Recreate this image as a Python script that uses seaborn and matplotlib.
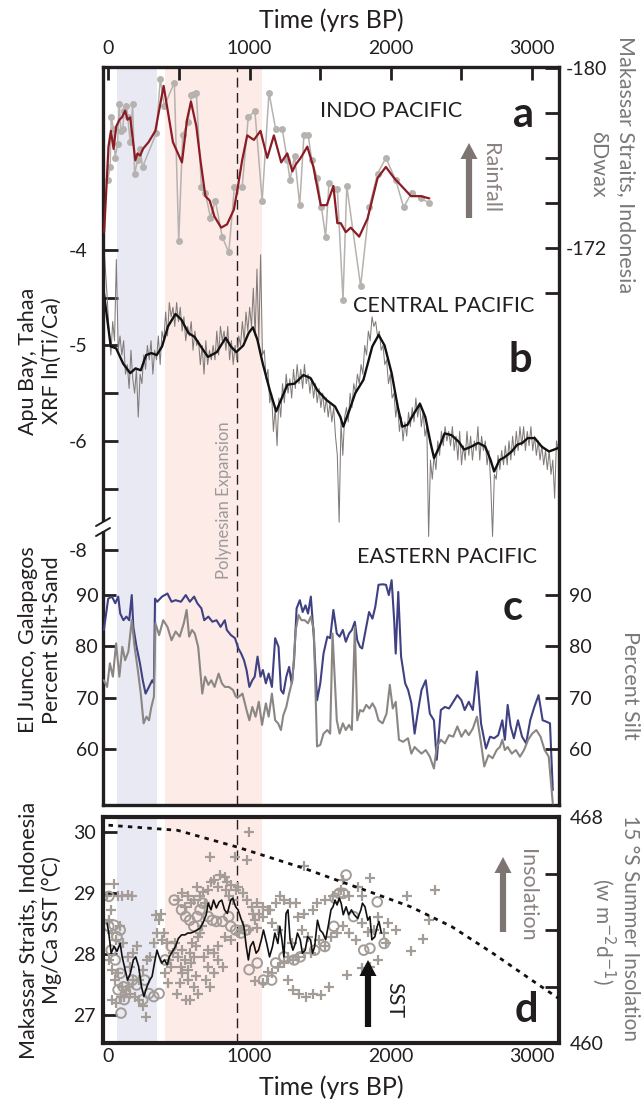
import numpy as np
import pandas as pd
import matplotlib
matplotlib.use("Agg")
import matplotlib.pyplot as plt
from matplotlib.patches import FancyArrow, Rectangle
from matplotlib.lines import Line2D
import seaborn as sns

# ---------------------------------------------------------------- data
# (a) Makassar Straits leaf-wax dD (permil): raw samples and smoothed record
dwax_raw = [(-7, -175.0), (12, -175.6), (19, -177.8), (36, -177.3), (47, -176.0), (64, -176.6),
            (76, -178.4), (88, -177.2), (102, -177.3), (111, -178.1), (126, -178.3), (137, -177.8),
            (154, -176.7), (171, -178.4), (185, -175.3), (206, -175.9), (225, -176.4), (242, -175.6),
            (339, -177.1), (367, -179.5), (396, -178.3), (467, -179.35), (498, -172.3), (526, -177.0),
            (564, -177.6), (588, -178.8), (604, -178.85), (623, -178.9), (659, -174.7), (687, -174.45),
            (723, -173.35), (758, -174.1), (806, -172.5), (853, -171.8), (893, -174.7), (948, -174.7),
            (991, -177.8), (1038, -178.1), (1090, -174.1), (1138, -178.9), (1185, -177.3), (1232, -177.3),
            (1268, -175.9), (1287, -175.0), (1320, -176.1), (1356, -173.9), (1386, -177.0), (1417, -177.0),
            (1441, -175.9), (1481, -175.1), (1510, -173.8), (1540, -172.5), (1564, -174.9), (1623, -174.6),
            (1663, -169.7), (1690, -174.75), (1788, -170.3), (1849, -173.8), (1908, -175.3), (1967, -176.0),
            (2038, -175.0), (2093, -173.8), (2150, -174.45), (2216, -174.2), (2275, -174.0)]
dwax_smooth = [(-31, -172.7), (0, -176.5), (17, -177.2), (36, -176.4), (55, -177.4), (78, -177.7),
               (95, -177.8), (118, -178.1), (135, -177.7), (154, -177.8), (173, -176.8), (190, -175.9),
               (206, -176.2), (225, -176.1), (244, -176.4), (284, -176.7), (332, -177.2), (391, -179.2),
               (457, -176.7), (521, -175.8), (557, -177.7), (585, -178.5), (623, -177.4), (652, -175.9),
               (687, -174.3), (718, -174.1), (751, -173.4), (799, -172.9), (841, -173.05), (889, -173.7),
               (912, -174.5), (948, -175.9), (984, -177.0), (1031, -176.8), (1078, -177.2), (1126, -176.0),
               (1173, -177.0), (1225, -175.8), (1268, -176.2), (1304, -175.4), (1327, -175.7), (1363, -176.0),
               (1410, -176.5), (1453, -175.6), (1505, -173.9), (1548, -173.9), (1595, -174.75), (1623, -173.1),
               (1647, -173.1), (1683, -172.7), (1718, -172.9), (1778, -172.5), (1837, -173.3), (1908, -175.1),
               (1967, -175.6), (2026, -175.1), (2086, -174.7), (2145, -174.3), (2216, -174.3), (2275, -174.2)]

# (b) Apu Bay XRF ln(Ti/Ca): evenly spaced scan between these ages, and smoothed curve
xrf_age_span = (-35, 3190)
xrf_raw = [
    -3.9, -4.2, -4.5, -4.85, -5.1, -4.75, -4.95, -4.1, -5.05, -4.9,
    -5.1, -4.95, -5.3, -5.2, -5.45, -5.05, -5.35, -5.5, -5.25, -5.75,
    -5.3, -5.4, -5.1, -5.25, -5.0, -5.15, -4.95, -5.3, -5.05, -5.15,
    -4.9, -5.2, -4.85, -4.95, -4.65, -4.9, -4.55, -4.7, -4.6, -4.8,
    -4.55, -4.75, -4.6, -4.85, -4.7, -4.95, -4.8, -4.9, -4.75, -5.05,
    -4.85, -5.0, -4.95, -5.2, -5.0, -5.3, -4.95, -5.2, -5.05, -5.15,
    -5.0, -5.15, -4.85, -5.1, -4.8, -4.95, -4.85, -5.05, -4.8, -5.15,
    -4.95, -5.2, -5.0, -5.15, -4.9, -5.0, -4.75, -4.95, -4.65, -4.85,
    -4.6, -4.8, -4.4, -4.9, -4.2, -4.95, -4.05, -5.1, -5.05, -5.35,
    -5.25, -5.6, -5.5, -5.9, -5.65, -6.05, -5.55, -5.75, -5.4, -5.6,
    -5.3, -5.5, -5.35, -5.55, -5.25, -5.45, -5.2, -5.4, -5.25, -5.45,
    -5.2, -5.4, -5.3, -5.5, -5.35, -5.55, -5.4, -5.6, -5.45, -5.65,
    -5.5, -5.7, -5.55, -5.75, -5.6, -5.8, -5.65, -5.95, -6.15, -6.85,
    -5.8, -6.15, -5.75, -5.65, -5.8, -5.5, -5.65, -5.4, -5.5, -5.3,
    -5.4, -5.2, -5.3, -5.0, -5.1, -4.85, -4.95, -4.7, -4.8, -4.75,
    -4.9, -4.85, -5.05, -5.0, -5.2, -5.15, -5.4, -5.3, -5.55, -5.5,
    -5.75, -5.6, -5.9, -5.75, -6.0, -5.8, -5.95, -5.7, -5.85, -5.65,
    -5.8, -5.55, -5.75, -5.6, -5.85, -5.7, -5.95, -5.85, -7.0, -6.2,
    -6.4, -6.15, -6.3, -6.0, -6.15, -5.9, -6.05, -5.85, -6.0, -5.9,
    -6.05, -5.85, -6.1, -5.95, -6.2, -5.9, -6.25, -6.05, -6.2, -5.9,
    -6.15, -5.95, -6.2, -6.0, -6.1, -5.85, -6.2, -5.95, -6.1, -6.0,
    -6.25, -6.1, -6.45, -7.0, -6.35, -6.4, -6.15, -6.3, -6.1, -6.25,
    -6.05, -6.25, -6.0, -6.2, -5.95, -6.15, -5.9, -6.1, -5.85, -6.05,
    -5.85, -6.1, -5.9, -6.05, -5.85, -6.1, -5.95, -6.15, -6.0, -6.2,
    -6.05, -6.25, -6.1, -6.3, -6.1, -6.35, -6.2, -6.6, -6.0, -6.1]
xrf_smooth = [(-39, -4.38), (16, -5.01), (54, -5.03), (104, -5.19), (154, -5.29), (192, -5.24),
              (229, -5.26), (267, -5.10), (304, -5.08), (342, -5.10), (380, -5.01), (422, -4.80),
              (475, -4.67), (517, -4.73), (567, -4.87), (610, -4.91), (655, -5.01), (705, -5.12),
              (768, -5.07), (831, -4.92), (868, -5.01), (906, -5.07), (956, -5.0), (994, -4.87),
              (1024, -4.81), (1056, -4.94), (1094, -5.19), (1144, -5.47), (1189, -5.69), (1232, -5.54),
              (1269, -5.41), (1319, -5.40), (1382, -5.31), (1432, -5.34), (1482, -5.47), (1545, -5.57),
              (1607, -5.64), (1645, -5.75), (1665, -5.85), (1708, -5.68), (1750, -5.50), (1808, -5.36),
              (1871, -5.01), (1916, -4.89), (1958, -5.0), (2008, -5.29), (2051, -5.64), (2084, -5.85),
              (2121, -5.83), (2159, -5.73), (2209, -5.61), (2247, -5.75), (2284, -6.02), (2309, -6.18),
              (2347, -6.06), (2384, -5.92), (2434, -5.94), (2485, -6.01), (2522, -6.09), (2572, -6.06),
              (2622, -6.02), (2672, -6.06), (2710, -6.2), (2735, -6.32), (2773, -6.2), (2810, -6.17),
              (2860, -6.11), (2898, -6.04), (2936, -6.02), (2973, -5.97), (3023, -5.97), (3073, -6.06),
              (3124, -6.11), (3161, -6.09), (3194, -6.07)]

# (c) El Junco lake sediment: percent silt+sand and percent silt
siltsand = [(-33, 83.2), (-2, 89.3), (25, 89.7), (48, 88.4), (69, 89.7), (83, 86.4), (106, 85.1),
            (127, 85.8), (147, 85.1), (165, 90.0), (176, 83.8), (199, 79.9), (223, 76.7), (243, 73.4),
            (263, 70.8), (287, 72.1), (310, 73.4), (322, 72.8), (330, 89.3), (345, 88.7), (380, 89.7),
            (418, 90.3), (447, 88.7), (476, 89.0), (514, 88.7), (548, 90.0), (577, 88.7), (607, 89.7),
            (630, 88.4), (659, 87.4), (679, 85.1), (708, 85.8), (737, 84.8), (766, 85.1), (795, 83.8),
            (825, 85.1), (839, 83.2), (868, 82.2), (897, 81.6), (921, 79.6), (941, 78.6), (961, 77.3),
            (979, 75.4), (999, 72.1), (1020, 73.4), (1037, 74.1), (1057, 78.0), (1078, 74.1), (1095, 75.4),
            (1116, 72.8), (1136, 74.7), (1159, 72.1), (1182, 81.6), (1206, 79.9), (1223, 71.5), (1240, 70.8),
            (1261, 74.1), (1281, 76.0), (1299, 72.8), (1316, 77.3), (1334, 87.4), (1357, 89.0), (1377, 86.7),
            (1397, 88.0), (1415, 86.4), (1435, 89.7), (1456, 81.9), (1479, 69.5), (1502, 72.8), (1525, 78.6),
            (1552, 81.9), (1572, 81.6), (1595, 87.1), (1619, 82.5), (1639, 81.9), (1662, 83.2), (1683, 80.9),
            (1706, 82.5), (1726, 83.2), (1747, 84.8), (1764, 81.2), (1784, 79.9), (1799, 79.6), (1828, 83.8),
            (1848, 86.7), (1872, 85.4), (1892, 87.7), (1915, 92.0), (1944, 92.1), (1968, 92.0), (1988, 90.0),
            (2008, 92.9), (2026, 85.1), (2037, 78.6), (2055, 90.6), (2075, 78.0), (2104, 72.8), (2125, 71.5),
            (2148, 68.9), (2171, 63.0), (2192, 66.9), (2220, 71.5), (2250, 73.4), (2279, 66.9), (2308, 65.6),
            (2328, 57.9), (2357, 67.6), (2386, 68.2), (2415, 67.9), (2445, 69.2), (2474, 70.5), (2503, 69.5),
            (2526, 67.6), (2555, 69.2), (2584, 67.6), (2613, 75.1), (2642, 65.0), (2677, 60.1), (2706, 62.4),
            (2735, 62.1), (2764, 62.7), (2793, 65.6), (2811, 61.8), (2831, 68.6), (2852, 64.4), (2875, 62.1),
            (2904, 65.6), (2933, 62.4), (2962, 61.1), (2991, 65.6), (3020, 68.2), (3050, 70.5), (3079, 65.6),
            (3108, 65.3), (3131, 65.0), (3151, 52.0)]
silt = [(-33, 73.4), (-10, 72.1), (10, 76.7), (31, 74.1), (54, 80.6), (77, 74.1), (98, 79.9), (118, 77.3),
        (141, 79.0), (165, 85.1), (185, 79.9), (208, 75.4), (229, 70.8), (249, 65.0), (269, 66.3),
        (287, 65.6), (304, 68.2), (322, 70.2), (333, 84.5), (359, 82.2), (388, 85.1), (418, 83.8),
        (447, 81.2), (476, 82.9), (505, 81.9), (534, 84.5), (554, 87.1), (572, 81.9), (592, 83.2),
        (612, 82.5), (636, 79.9), (665, 70.8), (685, 74.1), (708, 72.5), (729, 73.4), (752, 72.1),
        (781, 74.7), (804, 72.8), (825, 72.1), (854, 72.1), (883, 71.5), (903, 70.2), (926, 70.2),
        (950, 70.8), (979, 67.6), (999, 65.6), (1020, 68.2), (1043, 66.3), (1066, 69.2), (1089, 64.7),
        (1116, 68.9), (1136, 66.3), (1159, 70.8), (1182, 65.6), (1203, 65.0), (1223, 63.7), (1240, 66.6),
        (1261, 68.2), (1281, 70.8), (1305, 73.4), (1328, 83.2), (1348, 86.1), (1368, 85.1), (1392, 85.1),
        (1415, 84.5), (1435, 85.8), (1456, 83.2), (1479, 60.5), (1502, 60.8), (1525, 63.0), (1552, 63.7),
        (1572, 63.0), (1589, 82.5), (1619, 65.6), (1639, 63.0), (1662, 65.0), (1683, 63.7), (1706, 64.7),
        (1726, 63.7), (1747, 83.8), (1764, 65.6), (1784, 67.6), (1805, 67.3), (1828, 68.6), (1851, 67.9),
        (1872, 68.9), (1892, 67.9), (1915, 65.6), (1944, 65.0), (1972, 66.9), (1995, 72.5), (2016, 67.9),
        (2037, 69.2), (2060, 61.8), (2089, 61.4), (2124, 62.1), (2148, 59.1), (2171, 60.4), (2192, 59.8),
        (2220, 59.1), (2250, 59.8), (2279, 58.5), (2308, 56.2), (2328, 60.4), (2357, 61.8), (2386, 61.1),
        (2415, 62.7), (2445, 62.4), (2474, 64.4), (2503, 62.4), (2532, 63.7), (2555, 62.7), (2584, 64.0),
        (2613, 66.3), (2642, 61.1), (2665, 56.6), (2695, 58.8), (2724, 58.2), (2753, 59.8), (2776, 60.4),
        (2793, 61.8), (2811, 59.8), (2831, 60.4), (2860, 59.1), (2889, 59.8), (2918, 58.5), (2947, 59.8),
        (2976, 61.8), (3005, 63.0), (3034, 63.7), (3064, 62.4), (3093, 59.8), (3122, 58.5), (3151, 49.4)]

# (d) Makassar Straits Mg/Ca SST (deg C): smoothed stack and individual measurements
sst_age = [-10, 2, 19, 39, 60, 83, 97, 118, 135, 155, 176, 193, 214, 234, 251, 272, 292, 309, 330, 344,
           359, 379, 396, 417, 431, 454, 475, 495, 518, 542, 562, 582, 605, 629, 649, 669, 693, 707, 727,
           745, 765, 785, 803, 823, 843, 867, 881, 902, 919, 939, 960, 977, 992, 1006, 1026, 1047, 1064,
           1084, 1099, 1122, 1142, 1163, 1180, 1201, 1215, 1230, 1244, 1259, 1273, 1288, 1308, 1325, 1340,
           1360, 1375, 1395, 1412, 1433, 1447, 1462, 1482, 1500, 1520, 1540, 1558, 1578, 1592, 1607, 1621,
           1636, 1650, 1665, 1685, 1703, 1723, 1743, 1767, 1790, 1801, 1819, 1839, 1854, 1868, 1889, 1906,
           1918, 1935]
sst_smooth = [28.50, 28.34, 28.01, 28.12, 28.04, 28.17, 27.95, 27.74, 27.57, 27.68,
              27.90, 27.95, 27.79, 27.46, 27.30, 27.46, 27.57, 27.63, 27.90, 28.06,
              27.95, 27.85, 27.90, 27.82, 27.95, 28.04, 28.12, 28.25, 28.31, 28.31,
              28.34, 28.34, 28.36, 28.39, 28.42, 28.50, 28.64, 28.83, 28.72, 28.88,
              28.75, 28.85, 28.88, 28.72, 28.66, 28.88, 28.91, 28.77, 28.72, 28.58,
              28.45, 28.12, 27.90, 28.12, 28.20, 28.01, 28.06, 28.23, 28.39, 28.17,
              27.95, 28.12, 28.34, 28.17, 28.45, 28.23, 27.95, 28.66, 28.72, 28.23,
              28.06, 28.17, 28.34, 28.23, 28.01, 28.06, 28.28, 28.23, 28.01, 28.12,
              28.55, 28.39, 28.34, 28.23, 28.45, 28.72, 28.77, 28.88, 28.80, 28.91,
              28.83, 28.64, 28.77, 28.64, 28.72, 28.64, 28.58, 28.72, 28.83, 28.77,
              28.55, 28.61, 28.23, 28.28, 28.45, 28.53, 28.34]
sst_cross = [(-33, 29.15), (-10, 28.94), (19, 28.72), (39, 29.15), (68, 28.94), (97, 28.94), (141, 28.96),
             (165, 28.94), (2, 28.55), (25, 28.34), (54, 28.23), (83, 28.45), (106, 28.17), (135, 27.95),
             (155, 27.79), (176, 28.01), (199, 28.12), (2, 27.90), (25, 27.74), (48, 27.57), (68, 27.68),
             (97, 27.46), (126, 27.41), (155, 27.35), (185, 27.30), (214, 27.25), (243, 27.14), (263, 26.97),
             (25, 27.25), (54, 27.19), (89, 27.30), (112, 27.30), (147, 27.46), (176, 27.57), (214, 27.57),
             (243, 27.74), (272, 27.90), (292, 27.95), (321, 28.17), (344, 28.34), (359, 28.55), (373, 28.66),
             (338, 28.64), (379, 28.23), (396, 28.34), (417, 28.17), (431, 27.90), (402, 27.68), (425, 27.52),
             (446, 27.79), (460, 28.01), (475, 28.17), (495, 27.95), (512, 27.79), (524, 28.06), (504, 27.52),
             (489, 27.35), (518, 27.68), (542, 27.90), (562, 27.74), (576, 28.01), (591, 28.17), (562, 27.57),
             (582, 27.85), (605, 27.95), (620, 28.12), (634, 28.28), (649, 28.34), (663, 28.45), (495, 28.88),
             (518, 28.99), (542, 28.77), (562, 28.94), (582, 28.83), (605, 28.88), (629, 29.10), (649, 28.94),
             (669, 29.02), (687, 28.83), (707, 29.05), (727, 29.18), (751, 29.21), (774, 29.10), (794, 29.29),
             (823, 29.25), (843, 29.18), (867, 29.13), (832, 29.05), (852, 28.94), (881, 28.88), (902, 29.05),
             (919, 29.10), (954, 28.99), (983, 28.88), (1018, 28.77), (1055, 28.83), (1099, 28.77), (1128, 28.72),
             (1041, 27.55), (1099, 27.52), (1157, 27.68), (1201, 27.79), (1244, 27.85), (1273, 27.95),
             (1308, 27.90), (1346, 27.95), (1389, 28.01), (1433, 28.01), (1128, 27.71), (1273, 27.57),
             (1311, 27.41), (1354, 27.35), (1404, 27.30), (1447, 27.35), (1505, 27.33), (1563, 27.46),
             (1694, 27.65), (1796, 27.76), (1854, 27.79), (1912, 27.90), (1970, 28.17), (2042, 28.39),
             (2144, 28.04), (2231, 28.25), (2275, 28.55), (2115, 28.94), (2318, 29.05), (1854, 29.24),
             (1767, 29.10), (1709, 28.94), (1796, 28.94), (1650, 29.05), (1592, 28.94), (1534, 28.88),
             (1476, 28.83), (1447, 28.72), (1389, 28.66), (1331, 28.83), (1288, 28.83), (1244, 28.88),
             (1215, 28.94), (1186, 28.83), (1142, 28.72), (1099, 28.61), (1070, 28.66), (1041, 28.55),
             (997, 28.39), (954, 28.45), (925, 28.34), (867, 28.23), (823, 28.28), (780, 28.12), (751, 28.01),
             (707, 28.06), (678, 27.95), (707, 27.79), (751, 27.68), (780, 27.90), (809, 27.79), (693, 27.57),
             (722, 27.46), (620, 27.63), (634, 27.35), (605, 27.46), (576, 27.25), (547, 27.25), (983, 29.54),
             (997, 30.0), (722, 29.59), (896, 29.59), (1026, 28.66), (1055, 28.42), (1157, 28.50), (1201, 28.39),
             (1302, 28.17), (1346, 28.61), (1375, 28.39), (1418, 28.28), (1491, 28.23), (1534, 28.12),
             (1578, 28.28), (1621, 28.34), (1665, 28.45), (1709, 28.34), (1752, 28.23), (1796, 28.50),
             (1839, 28.36), (1883, 28.39), (1912, 28.61), (1955, 28.34), (1984, 28.50), (1389, 29.43),
             (1665, 29.21)]
sst_circle = [(2, 28.94), (39, 28.47), (2, 28.45), (83, 28.39), (60, 28.28), (19, 28.06), (48, 27.90),
              (83, 27.68), (106, 27.46), (68, 27.41), (112, 27.25), (89, 27.03), (170, 27.57), (199, 27.49),
              (243, 27.25), (286, 27.35), (321, 27.30), (359, 27.35), (257, 27.57), (402, 27.90), (446, 28.12),
              (466, 28.88), (518, 28.72), (547, 28.61), (576, 28.55), (605, 28.45), (629, 28.61), (649, 28.72),
              (669, 28.83), (707, 28.61), (736, 28.55), (765, 28.53), (809, 28.53), (852, 28.61), (867, 28.45),
              (902, 28.39), (939, 28.34), (977, 28.39), (997, 27.74), (1055, 27.85), (1099, 27.57),
              (1157, 27.57), (1186, 27.85), (1244, 27.95), (1317, 27.90), (1360, 27.95), (1462, 28.06),
              (1534, 28.12), (1607, 28.91), (1636, 28.99), (1665, 28.99), (1685, 29.29), (1598, 28.45),
              (1738, 28.61), (1810, 28.06), (1854, 28.09), (1906, 28.85), (1955, 28.17)]

# 15 S summer insolation (W m-2 d-1)
insolation = [(0, 467.71), (489, 467.53), (910, 466.94), (1389, 466.18), (1650, 465.71), (1854, 465.35),
              (2144, 464.82), (2434, 464.12), (2725, 463.18), (3015, 462.18), (3189, 461.59)]

# highlighted intervals and the Polynesian expansion date (yrs BP)
cool_band = (58, 345)
warm_band = (402, 1090)
expansion_age = 910

year_ticks = [0, 500, 1000, 1500, 2000, 2500, 3000]
year_labels = ["0", "", "1000", "", "2000", "", "3000"]

# ---------------------------------------------------------------- style
sns.set_theme(style="white")
plt.rcParams["font.family"] = ["Lato", "DejaVu Sans"]
plt.rcParams["axes.unicode_minus"] = False

INK = "#231f20"
LABEL_GREY = "#7b7878"
ARROW_GREY = "#7e7573"

W, H = 641, 1101
fig = plt.figure(figsize=(W / 100, H / 100), dpi=100)
fig.patch.set_facecolor("white")


def rect(left, top, right, bottom):
    return [left / W, 1 - bottom / H, (right - left) / W, (bottom - top) / H]


def frame(pairs):
    return pd.DataFrame(pairs, columns=["age", "value"])


def draw_line(ax, df, **kw):
    sns.lineplot(data=df, x="age", y="value", ax=ax, estimator=None, sort=False,
                 legend=False, **kw)


def ftext(x, y, s, **kw):
    fig.text(x / W, 1 - y / H, s, **kw)


ax_b = fig.add_axes(rect(103, 67, 559, 805))
ax_a = ax_b.twinx()
ax_c = fig.add_axes(rect(103, 67, 559, 805), frameon=False)
ax_c2 = ax_c.twinx()
ax_d = fig.add_axes(rect(103, 817, 559, 1043))
ax_d2 = ax_d.twinx()

XLIM = (-39, 3195)
for ax in (ax_b, ax_a, ax_c, ax_c2, ax_d, ax_d2):
    ax.set_xlim(*XLIM)

# shaded intervals and expansion line
for ax in (ax_b, ax_d):
    ax.axvspan(*cool_band, color="#e9e9f4", lw=0, zorder=0)
    ax.axvspan(*warm_band, color="#fdebe7", lw=0, zorder=0)
    ax.axvline(expansion_age, color=INK, lw=1.0, ls=(0, (7, 4)), zorder=1)

# (b) XRF
xrf_df = pd.DataFrame({"age": np.linspace(*xrf_age_span, len(xrf_raw)), "value": xrf_raw})
draw_line(ax_b, xrf_df, color="#817b79", linewidth=0.75)
draw_line(ax_b, frame(xrf_smooth), color="#111111", linewidth=1.7)

# (a) dD wax
draw_line(ax_a, frame(dwax_raw), color="#b6b2af", linewidth=1.1, marker="o",
          markersize=5, markeredgewidth=0)
draw_line(ax_a, frame(dwax_smooth), color="#8c1c24", linewidth=1.6)

# (c) El Junco grain size
draw_line(ax_c, frame(siltsand), color="#3f4182", linewidth=1.5)
draw_line(ax_c2, frame(silt), color="#8a8684", linewidth=1.5)

# (d) SST and insolation
SCATTER_GREY = "#a39c97"
sns.scatterplot(data=frame(sst_cross), x="age", y="value", ax=ax_d, marker="+", s=60,
                color=SCATTER_GREY, linewidth=1.6, legend=False, zorder=2)
sns.scatterplot(data=frame(sst_circle), x="age", y="value", ax=ax_d, marker="o", s=48,
                facecolor="none", edgecolor=SCATTER_GREY, linewidth=1.4, legend=False, zorder=2)
draw_line(ax_d, pd.DataFrame({"age": sst_age, "value": sst_smooth}), color="#111111",
          linewidth=1.2, zorder=3)
draw_line(ax_d2, frame(insolation), color="#111111", linewidth=2.0, linestyle=(0, (1.6, 1.9)))

# ---------------------------------------------------------------- axes
TICK = dict(direction="in", width=2, colors=INK, labelsize=14)

ax_b.set_xticks(year_ticks)
ax_b.set_xticklabels(year_labels)
ax_b.xaxis.tick_top()
ax_b.tick_params(axis="x", length=9, pad=7, **TICK)
ax_b.set_xlabel("Time (yrs BP)", fontsize=18, color=INK)
ax_b.xaxis.set_label_position("top")
ax_b.xaxis.set_label_coords(0.5, (805 - 28) / 738)
ax_b.xaxis.label.set_va("baseline")

xrf_break_tick = -4 - (550 - 250) / 95.5
ax_b.set_ylim(-9.812, -2.084)
ax_b.set_yticks([-4, -4.5, -5, -5.5, -6, -6.5, xrf_break_tick])
ax_b.set_yticklabels(["-4", "", "-5", "", "-6", "", "-8"])
ax_b.tick_params(axis="y", length=11, pad=11.5, **TICK)
ax_b.set_ylabel("Apu Bay, Tahaa\nXRF ln(Ti/Ca)", fontsize=15.5, color=INK, linespacing=1.2)
ax_b.yaxis.set_label_coords((40 - 103) / 456, (805 - 361) / 738)
ax_b.yaxis.label.set(ha="center", va="center")
for s in ax_b.spines.values():
    s.set_linewidth(2.4)
    s.set_color(INK)

ax_a.set_ylim(-147.24, -180.04)
ax_a.set_yticks([-180, -178, -176, -174, -172, -170])
ax_a.set_yticklabels(["-180", "", "", "", "-172", ""])
ax_a.tick_params(axis="y", length=10, pad=5, **TICK)
ax_a.set_ylabel("Makassar Straits, Indonesia", rotation=270, fontsize=15.5, color=LABEL_GREY)
ax_a.yaxis.set_label_coords((626 - 103) / 456, (805 - 165) / 738)
ax_a.yaxis.label.set(ha="center", va="center")
ftext(598, 164, "δDwax", rotation=270, ha="center", va="center", fontsize=15.5, color=LABEL_GREY)
for s in ax_a.spines.values():
    s.set_visible(False)

ax_c.xaxis.set_visible(False)
ax_c.set_ylim(49.09, 192.9)
ax_c.set_yticks([60, 70, 80, 90])
ax_c.tick_params(axis="y", length=9, pad=3.5, **TICK)
ax_c.set_ylabel("El Junco, Galapagos\nPercent Silt+Sand", fontsize=15.5, color=INK,
                linespacing=1.2)
ax_c.yaxis.set_label_coords((40 - 103) / 456, (805 - 640) / 738)
ax_c.yaxis.label.set(ha="center", va="center")

ax_c2.set_ylim(49.09, 192.9)
ax_c2.set_yticks([60, 70, 80, 90])
ax_c2.tick_params(axis="y", length=10, pad=7, **TICK)
ax_c2.set_ylabel("Percent Silt", rotation=270, fontsize=15.5, color=LABEL_GREY)
ax_c2.yaxis.set_label_coords((630 - 103) / 456, (805 - 685) / 738)
ax_c2.yaxis.label.set(ha="center", va="center")
for s in ax_c2.spines.values():
    s.set_visible(False)

ax_d.set_xticks(year_ticks)
ax_d.set_xticklabels(year_labels)
ax_d.tick_params(axis="x", length=9, pad=3.5, top=False, **TICK)
ax_d.set_xlabel("Time (yrs BP)", fontsize=18, color=INK)
ax_d.xaxis.set_label_coords(0.5, (1043 - 1095) / 226)
ax_d.xaxis.label.set_va("baseline")
ax_d.set_ylim(26.54, 30.24)
ax_d.set_yticks([27, 28, 29, 30])
ax_d.tick_params(axis="y", length=10, pad=5, **TICK)
ax_d.set_ylabel("Makassar Straits, Indonesia\nMg/Ca SST (°C)", fontsize=15.5, color=INK,
                linespacing=1.2)
ax_d.yaxis.set_label_coords((40 - 103) / 456, 0.5)
ax_d.yaxis.label.set(ha="center", va="center")
for s in ax_d.spines.values():
    s.set_linewidth(3.0)
    s.set_color(INK)

ax_d2.set_ylim(460, 468)
ax_d2.set_yticks([460, 462, 464, 466, 468])
ax_d2.set_yticklabels(["460", "", "", "", "468"])
ax_d2.tick_params(axis="y", length=10, pad=8, **TICK)
ax_d2.set_ylabel("15 °S Summer Insolation", rotation=270, fontsize=15, color=LABEL_GREY)
ax_d2.yaxis.set_label_coords((630 - 103) / 456, (1043 - 928) / 226)
ax_d2.yaxis.label.set(ha="center", va="center")
ftext(604, 932, "(w m$^{-2}$d$^{-1}$)", rotation=270, ha="center", va="center",
      fontsize=15, color=LABEL_GREY)
for s in ax_d2.spines.values():
    s.set_visible(False)

# ---------------------------------------------------------------- annotations
for x, y, s in [(391, 117, "INDO PACIFIC"), (444, 312, "CENTRAL PACIFIC"),
                (447, 563, "EASTERN PACIFIC")]:
    ftext(x, y, s, ha="center", va="baseline", fontsize=15.5, color=INK)

for x, y, s in [(523, 127, "a"), (520, 372, "b"), (513, 620, "c"), (526, 1022, "d")]:
    ftext(x, y, s, ha="center", va="baseline", fontsize=30, fontweight="bold", color=INK)

ftext(224, 500, "Polynesian Expansion", rotation=90, ha="center", va="center",
      fontsize=12, color="#9b9a9a")
ftext(490, 178, "Rainfall", rotation=270, ha="center", va="center", fontsize=15.5, color="#8a8280")
ftext(527, 895, "Insolation", rotation=270, ha="center", va="center", fontsize=15.5, color="#8a8280")
ftext(394, 1000, "SST", rotation=270, ha="center", va="center", fontsize=15.5, color=INK)


def up_arrow(x, y_tail, y_tip, color):
    fig.add_artist(FancyArrow(x / 100, (H - y_tail) / 100, 0, (y_tail - y_tip) / 100,
                              width=0.062, head_width=0.17, head_length=0.16,
                              length_includes_head=True, transform=fig.dpi_scale_trans,
                              color=color, lw=0))


up_arrow(469, 218, 143, ARROW_GREY)
up_arrow(503, 932, 857, ARROW_GREY)
up_arrow(368, 1027, 960, "#111111")

# axis break on the left spine
fig.add_artist(Rectangle((99 / 100, (H - 531) / 100), 8 / 100, 9 / 100, color="white",
                         transform=fig.dpi_scale_trans, lw=0, zorder=5))
for yc in (522, 532):
    fig.add_artist(Line2D([96 / 100, 110 / 100], [(H - yc - 4) / 100, (H - yc + 4) / 100],
                          transform=fig.dpi_scale_trans, color=INK, lw=1.4, zorder=6))

fig.savefig("out.png", dpi=100)
